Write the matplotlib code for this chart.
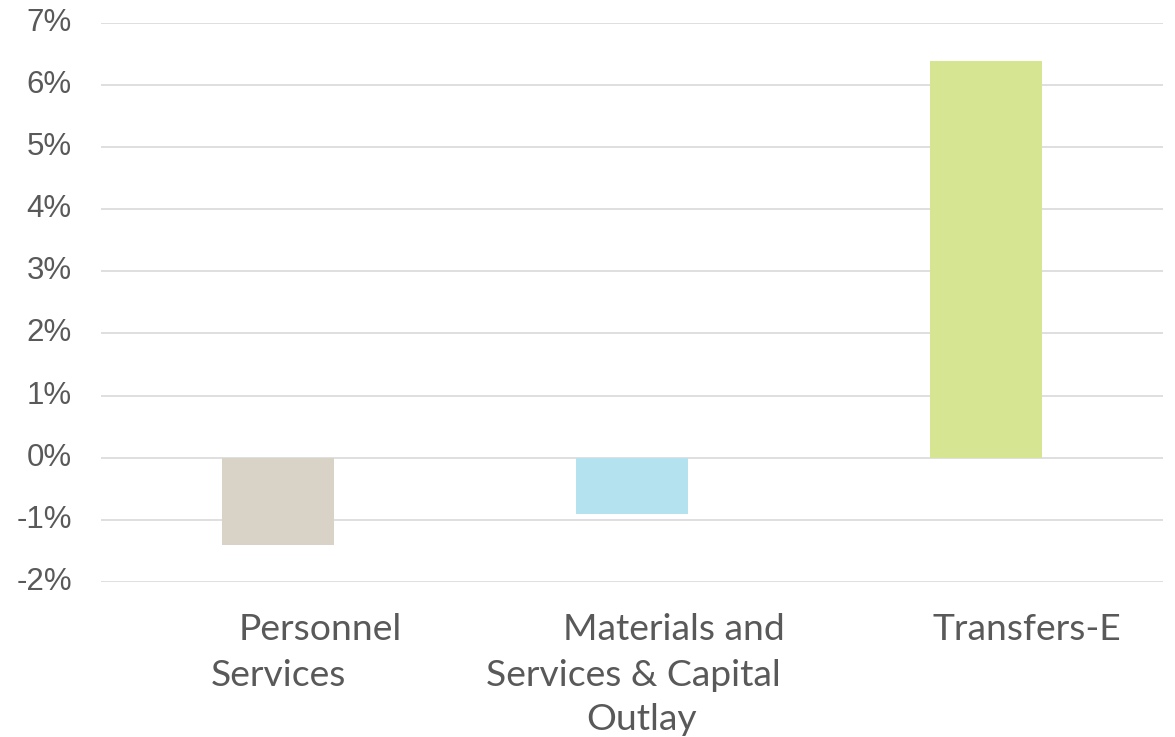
import matplotlib
matplotlib.use("Agg")
import matplotlib.pyplot as plt
import matplotlib.transforms as mtransforms

categories = ["Personnel Services", "Materials and Services & Capital Outlay", "Transfers-E"]
label_lines = [["Personnel", "Services"],
               ["Materials and", "Services & Capital", "Outlay"],
               ["Transfers-E"]]
values = [-1.41, -0.90, 6.38]
colors = ["#D9D3C7", "#B4E3EF", "#D5E591"]
yticks = [-2, -1, 0, 1, 2, 3, 4, 5, 6, 7]
ytick_labels = [f"{t}%" for t in yticks]

fig = plt.figure(figsize=(11.75, 7.37), dpi=100)
ax = fig.add_axes([101 / 1175, 1 - 582 / 737, (1163 - 101) / 1175, (582 - 22.7) / 737])

x = list(range(len(categories)))
ax.bar(x, values, width=0.314, color=colors, zorder=3)

ax.set_xlim(-0.5, 2.5)
ax.set_ylim(-2, 7)
ax.set_yticks(yticks)
ax.set_yticklabels(ytick_labels, fontfamily="Liberation Sans", fontsize=22.5, color="#595959")
ax.tick_params(axis="y", length=0, pad=21)
ax.set_xticks([])
for lab in ax.get_yticklabels():
    lab.set_horizontalalignment("right")
    lab.set_verticalalignment("center")
    lab.set_y(lab.get_position()[1])

ax.grid(axis="y", color="#D9D9D9", linewidth=1.2, zorder=0)
for s in ax.spines.values():
    s.set_visible(False)

# category labels, line by line (first line offset right as in reference)
trans = mtransforms.blended_transform_factory(ax.transData, ax.transAxes)
line_dx = [[42, 0], [42, 1, 10], [41]]
for i, lines in enumerate(label_lines):
    for j, line in enumerate(lines):
        ax.annotate(line, xy=(x[i], 0), xycoords=trans,
                    xytext=(line_dx[i][j] * 0.72, -(48 + 45 * j) * 0.72),
                    textcoords="offset points", ha="center", va="center",
                    fontfamily="Lato", fontsize=26.8, color="#595959",
                    annotation_clip=False)

fig.savefig("out.png", dpi=100)
